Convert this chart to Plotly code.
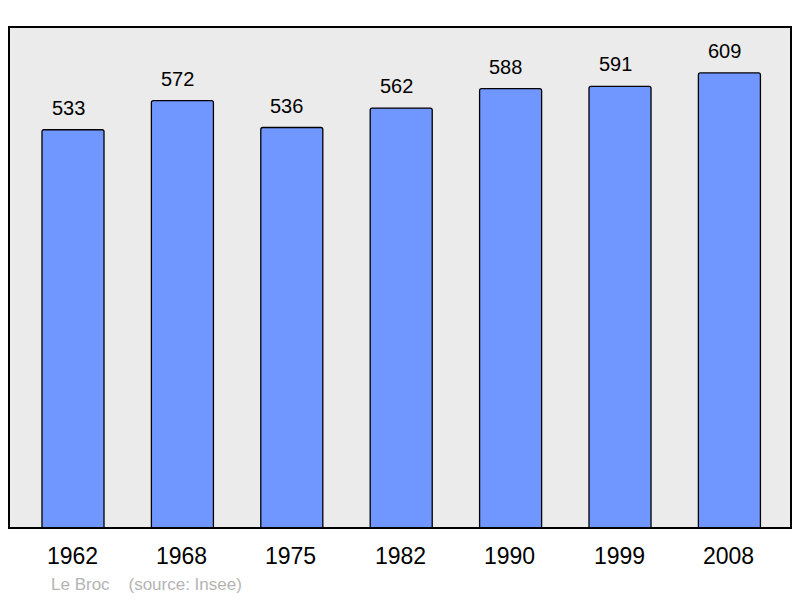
import plotly.graph_objects as go

years = ["1962", "1968", "1975", "1982", "1990", "1999", "2008"]
population = [533, 572, 536, 562, 588, 591, 609]
place = "Le Broc"
source = "(source: Insee)"

idx = list(range(len(years)))
FONT = "Liberation Sans, Arial, sans-serif"

fig = go.Figure()
fig.add_trace(go.Bar(
    x=idx, y=population, width=0.567,
    marker=dict(color="#7096ff", line=dict(color="black", width=1.3), cornerradius=2),
    hoverinfo="skip",
))

annotations = []
for i, v in zip(idx, population):
    annotations.append(dict(x=i, y=v, xref="x", yref="y", text=str(v), showarrow=False,
                            yanchor="middle", yshift=22, xshift=-5,
                            font=dict(family=FONT, size=20, color="black")))
for i, yr in zip(idx, years):
    annotations.append(dict(x=i, y=0, xref="x", yref="paper", text=yr, showarrow=False,
                            yanchor="middle", yshift=-28, xshift=-1,
                            font=dict(family=FONT, size=23, color="black")))
annotations.append(dict(text=place + "&nbsp;&nbsp;&nbsp;&nbsp;" + source, xref="paper", yref="paper",
                        x=(49 - 9) / 782, y=0, yshift=-56, xanchor="left", yanchor="middle",
                        showarrow=False,
                        font=dict(family=FONT, size=17, color="#b4b4b4")))

fig.update_layout(
    width=800, height=598,
    margin=dict(l=9, r=9, t=27, b=70, autoexpand=False),
    paper_bgcolor="white", plot_bgcolor="#ebebeb",
    showlegend=False,
    xaxis=dict(range=[-0.585, 6.563], showgrid=False, zeroline=False, showline=False,
               showticklabels=False, ticks=""),
    yaxis=dict(range=[0, 670.5], showgrid=False, zeroline=False, showline=False,
               showticklabels=False, ticks=""),
    shapes=[dict(type="rect", xref="paper", yref="paper", x0=0, y0=0, x1=1, y1=1,
                 line=dict(color="black", width=2), fillcolor="rgba(0,0,0,0)", layer="above")],
    annotations=annotations,
)

fig.write_html("out.html", config={"displayModeBar": False},
               post_script="document.body.style.margin='0';")
